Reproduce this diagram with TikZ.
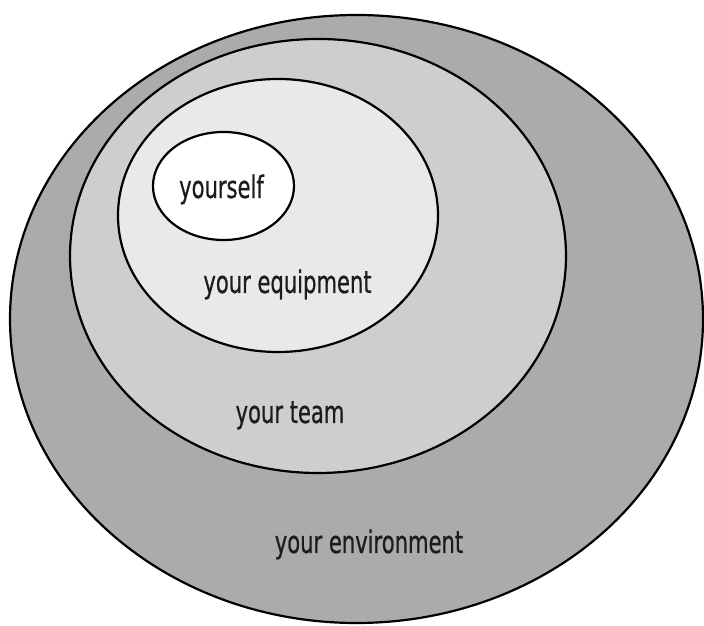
\documentclass[tikz,border=0pt]{standalone}
\usepackage{fontspec}
\setmainfont{DejaVu Sans}[FakeStretch=0.68,FakeBold=0.6]
\usetikzlibrary{shapes.geometric}
\definecolor{envgray}{HTML}{ABABAB}
\definecolor{teamgray}{HTML}{CECECE}
\definecolor{equipgray}{HTML}{E9E9E9}
\definecolor{txtgray}{HTML}{1C1C1C}
\tikzset{
  ring/.style={ellipse, draw=black, line width=2.2pt, inner sep=0pt, outer sep=0pt},
  lbl/.style={anchor=base, text=txtgray, font=\fontsize{31}{36}\selectfont, inner sep=0pt}
}
\begin{document}
\begin{tikzpicture}[x=1pt,y=1pt]
\useasboundingbox[fill=white] (0,0) rectangle (704,626);
\node[ring, fill=envgray, minimum width=693pt, minimum height=608pt] (env) at (356.5,307) {};
\node[ring, fill=teamgray, minimum width=496pt, minimum height=434pt] (team) at (318,370) {};
\node[ring, fill=equipgray, minimum width=320pt, minimum height=273pt] (equip) at (278,410.5) {};
\node[ring, fill=white, minimum width=141pt, minimum height=108pt] (self) at (223.5,440) {};
\node[lbl] (tself) at (221.5,428) {yourself};
\node[lbl] (tequip) at (287.5,333) {your equipment};
\node[lbl] (tteam) at (290,203) {your team};
\node[lbl] (tenv) at (369,73) {your environment};
\end{tikzpicture}
\end{document}
